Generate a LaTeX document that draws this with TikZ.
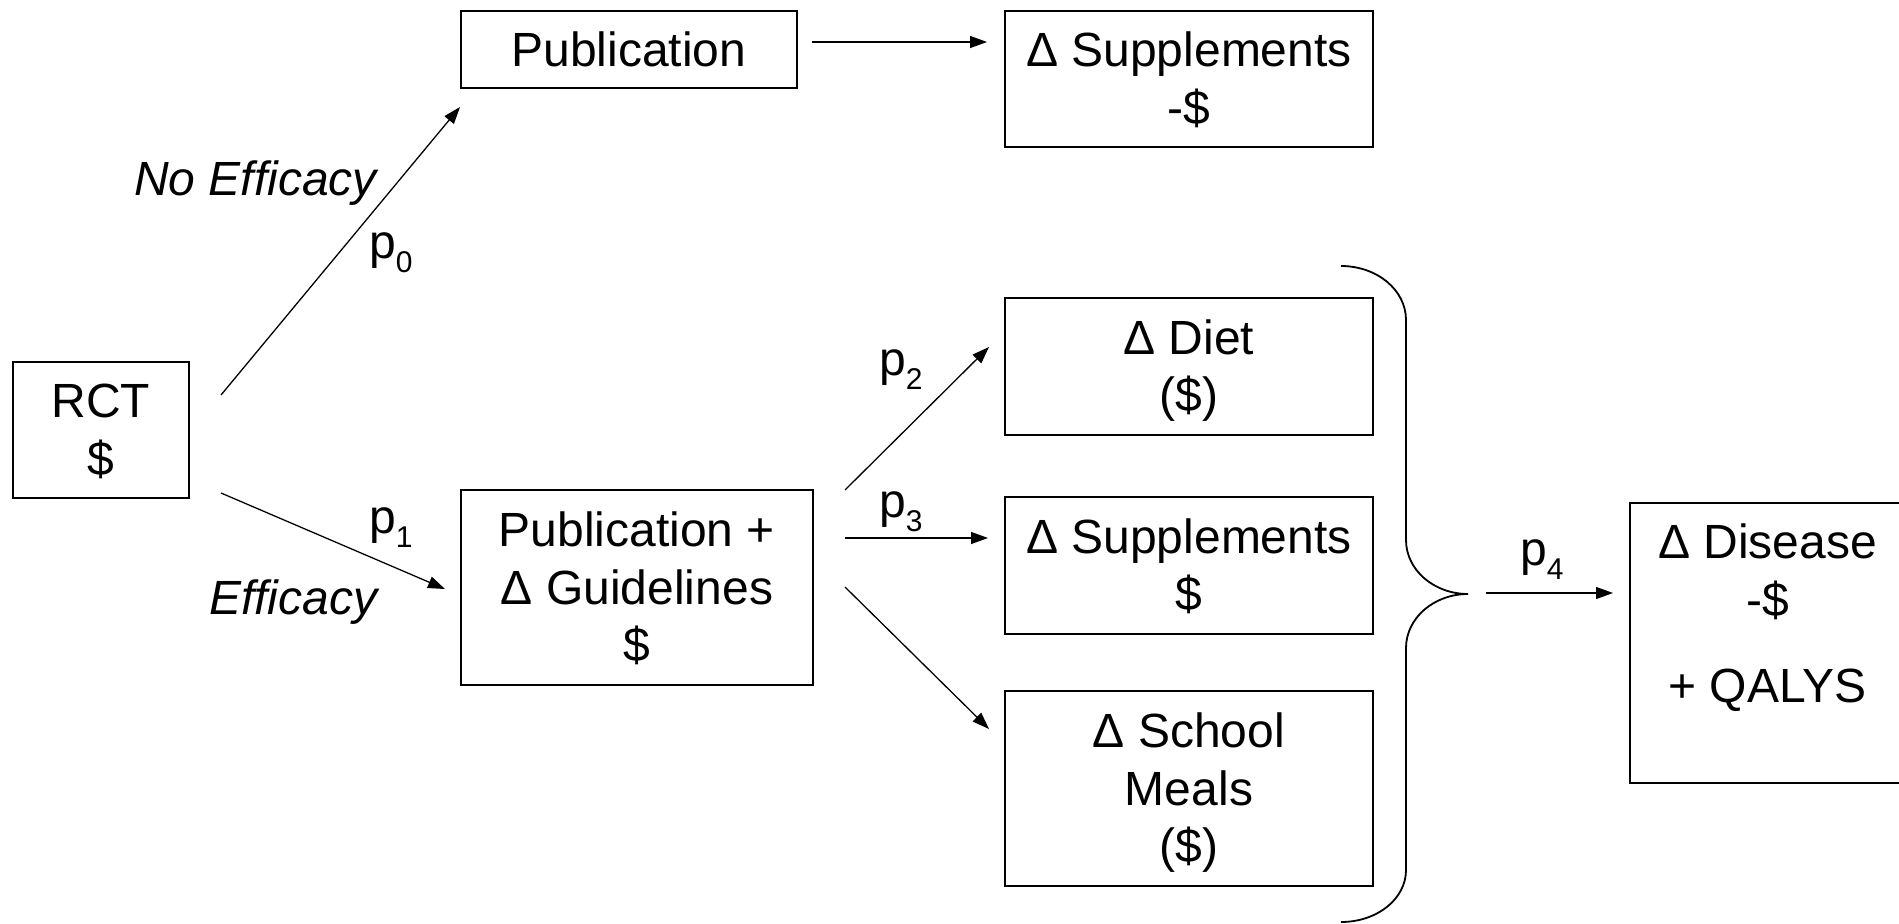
\documentclass[tikz,border=0pt]{standalone}
\usepackage{fontspec}
\setmainfont{Liberation Sans}
\usetikzlibrary{arrows.meta}
\newcommand\ps{\rule[-10.2pt]{0pt}{53.6pt}}
\newcommand\subsc[1]{\raisebox{-14pt}{\fontsize{30}{30}\selectfont #1}}
\begin{document}
\begin{tikzpicture}[x=1pt,y=-1pt,
  box/.style={draw, line width=1.8pt, inner sep=0pt, align=center,
    font=\fontsize{48}{57.6}\selectfont},
  lbl/.style={inner sep=0pt, anchor=base west, font=\fontsize{48}{57.6}\selectfont},
  arr/.style={line width=1.3pt, -{Triangle[length=17pt,width=12pt]}}]
\useasboundingbox (0,0) rectangle (1899,924);
\fill[white] (0,0) rectangle (1899,924);

% boxes
\node[box, minimum width=176pt, minimum height=136pt] (rct) at (101,430) {\ps RCT\\\ps\$};
\node[box, minimum width=336pt, minimum height=77pt] (pub) at (629,49.5) {\ps Publication};
\node[box, minimum width=368pt, minimum height=136pt] (supa) at (1189,79) {\ps Δ Supplements\\\ps -\$};
\node[box, minimum width=352pt, minimum height=195pt] (pubg) at (637,587.5) {\ps Publication +\\\ps Δ Guidelines\\\ps \$};
\node[box, minimum width=368pt, minimum height=137pt] (diet) at (1189,366.5) {\ps Δ Diet\\\ps (\$)};
\node[box, minimum width=368pt, minimum height=137pt] (supb) at (1189,565.5) {\ps Δ Supplements\\\ps \$};
\node[box, minimum width=368pt, minimum height=195pt] (school) at (1189,788.5) {\ps Δ School\\\ps Meals\\\ps (\$)};
\begin{scope}
\clip (0,0) rectangle (1899,924);
\node[box, minimum width=275pt, minimum height=280pt] (disease) at (1767.5,643) {\ps Δ Disease\\\ps -\$\\[29pt]\ps + QALYS\\\ps};
\end{scope}

% labels
\node[lbl] (noeff) at (134,195) {\itshape No Efficacy};
\node[lbl] (eff) at (209,614) {\itshape Efficacy};
\node[lbl] (p0) at (369,258) {p\subsc{0}};
\node[lbl] (p1) at (369,533) {p\subsc{1}};
\node[lbl] (p2) at (879,375) {p\subsc{2}};
\node[lbl] (p3) at (879,517) {p\subsc{3}};
\node[lbl] (p4) at (1520,565) {p\subsc{4}};

% connector ends
\coordinate (a0s) at (221,395);  \coordinate (a0e) at (460,107);
\coordinate (a1s) at (221,493);  \coordinate (a1e) at (445,589);
\coordinate (b0s) at (812,42);   \coordinate (b0e) at (987,42);
\coordinate (c2s) at (845,490);  \coordinate (c2e) at (989,347);
\coordinate (c3s) at (845,538);  \coordinate (c3e) at (988,538);
\coordinate (c5s) at (845,587);  \coordinate (c5e) at (989,729);
\coordinate (d4s) at (1486,593); \coordinate (d4e) at (1613,593);

\draw[arr] (a0s) -- (a0e);
\draw[arr] (a1s) -- (a1e);
\draw[arr] (b0s) -- (b0e);
\draw[arr] (c2s) -- (c2e);
\draw[arr] (c3s) -- (c3e);
\draw[arr] (c5s) -- (c5e);
\draw[arr] (d4s) -- (d4e);

% brace
\coordinate (tip) at (1468,594);
\draw[line width=1.8pt] (1341,266) .. controls (1377,266) and (1406,290) .. (1406,320)
  -- (1406,540) .. controls (1406,570) and (1434,594) .. (tip)
  .. controls (1434,594) and (1406,618) .. (1406,648)
  -- (1406,870) .. controls (1406,899) and (1377,922) .. (1341,922);
\end{tikzpicture}
\end{document}
